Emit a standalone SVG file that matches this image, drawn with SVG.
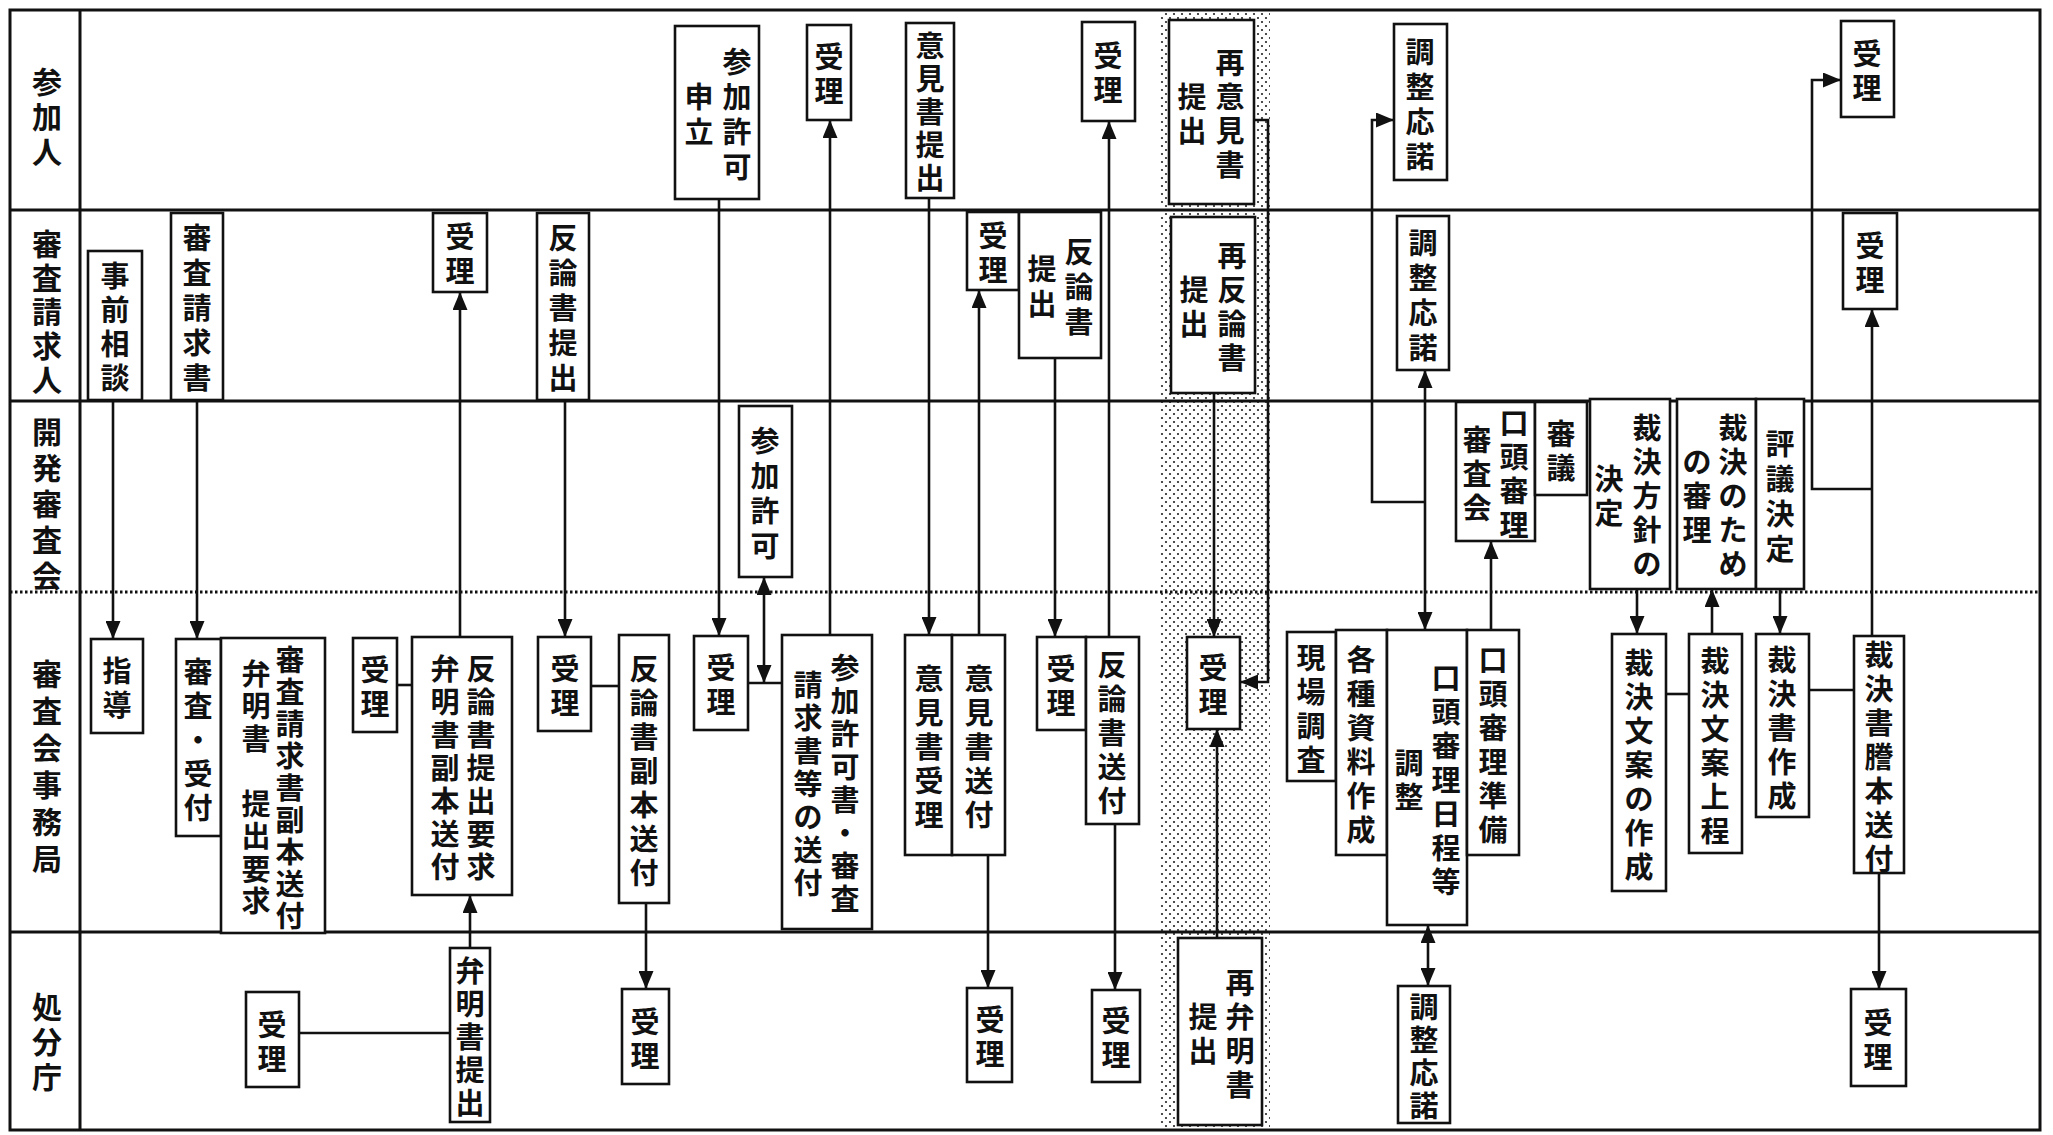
<svg xmlns="http://www.w3.org/2000/svg" width="2053" height="1135" viewBox="0 0 2053 1135">
<defs>
<style>
.box{fill:#fff;stroke:#111;stroke-width:2.6}
.t{font-family:"Noto Sans CJK JP","Noto Sans CJK SC",sans-serif;font-size:29px;font-weight:700;fill:#111;text-anchor:middle;dominant-baseline:central}
.lt{font-size:30px}
.lane{stroke:#111;stroke-width:3;fill:none}
.dot{stroke:#111;stroke-width:3;stroke-dasharray:2.5 2.5;fill:none}
.c{stroke:#111;stroke-width:2.6;fill:none}
.a{marker-end:url(#ah)}
.b{marker-start:url(#ah);marker-end:url(#ah)}
</style>
<marker id="ah" viewBox="0 0 18 15" refX="18" refY="7.5" markerWidth="18" markerHeight="15" orient="auto-start-reverse" markerUnits="userSpaceOnUse"><path d="M0,0 L18,7.5 L0,15 z" fill="#111"/></marker>
<pattern id="dots" width="8" height="8" patternUnits="userSpaceOnUse"><circle cx="2" cy="2" r="1.1" fill="#222"/><circle cx="6" cy="6" r="1.1" fill="#222"/></pattern>
</defs>
<rect width="2053" height="1135" fill="#fff"/>
<rect x="1160" y="10" width="110" height="1120" fill="url(#dots)"/>
<g id="lanes">
<rect class="lane" x="10" y="10" width="2030" height="1120"/>
<line class="lane" x1="80" y1="10" x2="80" y2="1130"/>
<line class="lane" x1="10" y1="210" x2="2040" y2="210"/>
<line class="lane" x1="10" y1="401" x2="2040" y2="401"/>
<line class="dot" x1="10" y1="592" x2="2040" y2="592"/>
<line class="lane" x1="10" y1="932" x2="2040" y2="932"/>
<text class="t lt" x="47 47 47" y="80 115 150">参加人</text>
<text class="t lt" x="47 47 47 47 47" y="242 276 310 344 378">審査請求人</text>
<text class="t lt" x="47 47 47 47 47" y="430 466 502 538 574">開発審査会</text>
<text class="t lt" x="47 47 47 47 47 47" y="672 709 746 783 820 857">審査会事務局</text>
<text class="t lt" x="47 47 47" y="1005 1040 1075">処分庁</text>
</g>
<g id="connectors">
<line class="c a" x1="113" y1="400" x2="113" y2="639"/>
<line class="c a" x1="197" y1="400" x2="197" y2="639"/>
<line class="c a" x1="460" y1="637" x2="460" y2="292"/>
<line class="c" x1="397" y1="685" x2="412" y2="685"/>
<line class="c a" x1="470" y1="948" x2="470" y2="895"/>
<line class="c" x1="299" y1="1033" x2="450" y2="1033"/>
<line class="c a" x1="565" y1="400" x2="565" y2="637"/>
<line class="c" x1="591" y1="686" x2="619" y2="686"/>
<line class="c a" x1="646" y1="903" x2="646" y2="989"/>
<line class="c a" x1="719" y1="199" x2="719" y2="636"/>
<line class="c" x1="748" y1="683" x2="782" y2="683"/>
<line class="c b" x1="764" y1="577" x2="764" y2="683"/>
<line class="c a" x1="830" y1="635" x2="830" y2="120"/>
<line class="c a" x1="929" y1="198" x2="929" y2="635"/>
<line class="c a" x1="979" y1="635" x2="979" y2="290"/>
<line class="c a" x1="988" y1="855" x2="988" y2="988"/>
<line class="c a" x1="1055" y1="358" x2="1055" y2="637"/>
<line class="c a" x1="1109" y1="637" x2="1109" y2="121"/>
<line class="c a" x1="1115" y1="824" x2="1115" y2="990"/>
<line class="c a" x1="1214" y1="393" x2="1214" y2="637"/>
<path class="c a" d="M1254,120 H1268 V682 H1240"/>
<line class="c a" x1="1217" y1="938" x2="1217" y2="729"/>
<line class="c b" x1="1425" y1="370" x2="1425" y2="630"/>
<path class="c a" d="M1425,502 H1372 V120 H1394"/>
<line class="c a" x1="1491" y1="630" x2="1491" y2="541"/>
<line class="c b" x1="1428" y1="925" x2="1428" y2="986"/>
<line class="c a" x1="1637" y1="589" x2="1637" y2="634"/>
<line class="c" x1="1666" y1="694" x2="1689" y2="694"/>
<line class="c a" x1="1712" y1="634" x2="1712" y2="589"/>
<line class="c a" x1="1780" y1="589" x2="1780" y2="634"/>
<line class="c" x1="1809" y1="690" x2="1854" y2="690"/>
<line class="c a" x1="1872" y1="636" x2="1872" y2="309"/>
<path class="c a" d="M1872,489 H1812 V80 H1841"/>
<line class="c a" x1="1879" y1="873" x2="1879" y2="989"/>
</g>
<g id="n-jizen"><rect class="box" x="88" y="251" width="54" height="149"/><text class="t" x="115 115 115 115" y="274 308 342 376">事前相談</text></g>
<g id="n-seikyusho"><rect class="box" x="171" y="213" width="52" height="187"/><text class="t" x="197 197 197 197 197" y="236 271 306 341 376">審査請求書</text></g>
<g id="n-juri-s1"><rect class="box" x="433" y="213" width="54" height="79"/><text class="t" x="460 460" y="235 269">受理</text></g>
<g id="n-hanron1"><rect class="box" x="537" y="213" width="52" height="187"/><text class="t" x="563 563 563 563 563" y="236 271 306 341 376">反論書提出</text></g>
<g id="n-sanka-moushitate"><rect class="box" x="675" y="26" width="84" height="173"/><text class="t" x="737 737 737 737" y="60 95 130 165">参加許可</text><text class="t" x="699 699" y="95 130">申立</text></g>
<g id="n-juri-p1"><rect class="box" x="807" y="25" width="44" height="95"/><text class="t" x="829 829" y="55 89">受理</text></g>
<g id="n-iken-teishutsu"><rect class="box" x="906" y="23" width="48" height="175"/><text class="t" x="930 930 930 930 930" y="44 77 110 143 176">意見書提出</text></g>
<g id="n-juri-s2"><rect class="box" x="967" y="212" width="52" height="78"/><text class="t" x="993 993" y="234 268">受理</text></g>
<g id="n-hanron2"><rect class="box" x="1019" y="212" width="82" height="146"/><text class="t" x="1079 1079 1079" y="250 285 320">反論書</text><text class="t" x="1042 1042" y="267 302">提出</text></g>
<g id="n-juri-p2"><rect class="box" x="1082" y="22" width="53" height="99"/><text class="t" x="1108 1108" y="54 88">受理</text></g>
<g id="n-sai-iken"><rect class="box" x="1169" y="20" width="85" height="184"/><text class="t" x="1230 1230 1230 1230" y="61 95 129 163">再意見書</text><text class="t" x="1192 1192" y="95 129">提出</text></g>
<g id="n-sai-hanron"><rect class="box" x="1171" y="217" width="84" height="176"/><text class="t" x="1232 1232 1232 1232" y="254 288 322 356">再反論書</text><text class="t" x="1194 1194" y="288 322">提出</text></g>
<g id="n-chosei-p"><rect class="box" x="1394" y="24" width="53" height="156"/><text class="t" x="1420 1420 1420 1420" y="50 85 120 155">調整応諾</text></g>
<g id="n-chosei-s"><rect class="box" x="1397" y="216" width="52" height="154"/><text class="t" x="1423 1423 1423 1423" y="241 276 311 346">調整応諾</text></g>
<g id="n-juri-p3"><rect class="box" x="1841" y="21" width="53" height="96"/><text class="t" x="1867 1867" y="52 86">受理</text></g>
<g id="n-juri-s3"><rect class="box" x="1843" y="213" width="54" height="96"/><text class="t" x="1870 1870" y="244 278">受理</text></g>
<g id="n-sanka-kyoka"><rect class="box" x="739" y="406" width="53" height="171"/><text class="t" x="765 765 765 765" y="439 474 509 544">参加許可</text></g>
<g id="n-koutou-shinsakai"><rect class="box" x="1456" y="402" width="79" height="139"/><text class="t" x="1514 1514 1514 1514" y="421 455 489 523">口頭審理</text><text class="t" x="1477 1477 1477" y="438 472 506">審査会</text></g>
<g id="n-shingi"><rect class="box" x="1535" y="402" width="52" height="93"/><text class="t" x="1561 1561" y="432 466">審議</text></g>
<g id="n-houshin"><rect class="box" x="1590" y="399" width="80" height="190"/><text class="t" x="1647 1647 1647 1647 1647" y="426 460 494 528 562">裁決方針の</text><text class="t" x="1609 1609" y="477 511">決定</text></g>
<g id="n-shinri"><rect class="box" x="1677" y="399" width="79" height="190"/><text class="t" x="1733 1733 1733 1733 1733" y="426 460 494 528 562">裁決のため</text><text class="t" x="1697 1697 1697" y="460 494 528">の審理</text></g>
<g id="n-hyogi"><rect class="box" x="1756" y="399" width="48" height="190"/><text class="t" x="1780 1780 1780 1780" y="442 477 512 547">評議決定</text></g>
<g id="n-shidou"><rect class="box" x="91" y="639" width="52" height="94"/><text class="t" x="117 117" y="669 703">指導</text></g>
<g id="n-shinsa-uketsuke"><rect class="box" x="176" y="639" width="45" height="197"/><text class="t" x="198 198 198 198 198" y="670 704 738 772 806">審査・受付</text></g>
<g id="n-fukuhon-soufu"><rect class="box" x="221" y="638" width="104" height="295"/><text class="t" x="290 290 290 290 290 290 290 290 290" y="658 690 722 754 786 818 850 882 914">審査請求書副本送付</text><text class="t" x="256 256 256 256 256 256 256" y="672 704 737 802 834 867 899">弁明書提出要求</text></g>
<g id="n-juri-j1"><rect class="box" x="353" y="638" width="44" height="94"/><text class="t" x="375 375" y="668 702">受理</text></g>
<g id="n-hanron-youkyu"><rect class="box" x="412" y="637" width="100" height="258"/><text class="t" x="481 481 481 481 481 481 481" y="667 700 733 766 799 832 865">反論書提出要求</text><text class="t" x="445 445 445 445 445 445 445" y="667 700 733 766 799 832 865">弁明書副本送付</text></g>
<g id="n-juri-j2"><rect class="box" x="538" y="637" width="53" height="94"/><text class="t" x="565 565" y="667 701">受理</text></g>
<g id="n-hanron-fukuhon"><rect class="box" x="619" y="635" width="50" height="268"/><text class="t" x="644 644 644 644 644 644 644" y="667 701 735 769 803 837 871">反論書副本送付</text></g>
<g id="n-juri-j3"><rect class="box" x="694" y="636" width="54" height="94"/><text class="t" x="721 721" y="666 700">受理</text></g>
<g id="n-kyokasho"><rect class="box" x="782" y="635" width="90" height="294"/><text class="t" x="845 845 845 845 845 845 845 845" y="666 699 732 765 798 831 864 897">参加許可書・審査</text><text class="t" x="808 808 808 808 808 808 808" y="683 716 749 782 815 848 881">請求書等の送付</text></g>
<g id="n-iken-juri"><rect class="box" x="905" y="635" width="47" height="220"/><text class="t" x="929 929 929 929 929" y="677 711 745 779 813">意見書受理</text></g>
<g id="n-iken-soufu"><rect class="box" x="952" y="635" width="53" height="220"/><text class="t" x="979 979 979 979 979" y="677 711 745 779 813">意見書送付</text></g>
<g id="n-juri-j4"><rect class="box" x="1037" y="637" width="49" height="93"/><text class="t" x="1061 1061" y="667 701">受理</text></g>
<g id="n-hanron-soufu"><rect class="box" x="1086" y="637" width="53" height="187"/><text class="t" x="1112 1112 1112 1112 1112" y="663 697 731 765 799">反論書送付</text></g>
<g id="n-juri-j5"><rect class="box" x="1187" y="637" width="53" height="92"/><text class="t" x="1213 1213" y="666 700">受理</text></g>
<g id="n-genba"><rect class="box" x="1287" y="632" width="49" height="149"/><text class="t" x="1311 1311 1311 1311" y="656 690 724 758">現場調査</text></g>
<g id="n-shiryou"><rect class="box" x="1336" y="630" width="51" height="225"/><text class="t" x="1361 1361 1361 1361 1361 1361" y="658 692 726 760 794 828">各種資料作成</text></g>
<g id="n-nittei"><rect class="box" x="1387" y="630" width="80" height="295"/><text class="t" x="1446 1446 1446 1446 1446 1446 1446" y="676 710 744 778 812 846 880">口頭審理日程等</text><text class="t" x="1409 1409" y="761 795">調整</text></g>
<g id="n-junbi"><rect class="box" x="1467" y="630" width="52" height="225"/><text class="t" x="1493 1493 1493 1493 1493 1493" y="658 692 726 760 794 828">口頭審理準備</text></g>
<g id="n-bunan-sakusei"><rect class="box" x="1612" y="634" width="54" height="257"/><text class="t" x="1639 1639 1639 1639 1639 1639 1639" y="661 695 729 763 797 831 865">裁決文案の作成</text></g>
<g id="n-bunan-joutei"><rect class="box" x="1689" y="634" width="53" height="219"/><text class="t" x="1715 1715 1715 1715 1715 1715" y="659 693 727 761 795 829">裁決文案上程</text></g>
<g id="n-saiketsusho"><rect class="box" x="1756" y="634" width="53" height="183"/><text class="t" x="1782 1782 1782 1782 1782" y="658 692 726 760 794">裁決書作成</text></g>
<g id="n-touhon"><rect class="box" x="1854" y="636" width="50" height="237"/><text class="t" x="1879 1879 1879 1879 1879 1879 1879" y="653 687 721 755 789 823 857">裁決書謄本送付</text></g>
<g id="n-juri-k1"><rect class="box" x="246" y="992" width="53" height="95"/><text class="t" x="272 272" y="1023 1057">受理</text></g>
<g id="n-benmei"><rect class="box" x="450" y="948" width="40" height="174"/><text class="t" x="470 470 470 470 470" y="969 1002 1035 1068 1101">弁明書提出</text></g>
<g id="n-juri-k2"><rect class="box" x="622" y="989" width="47" height="95"/><text class="t" x="645 645" y="1020 1054">受理</text></g>
<g id="n-juri-k3"><rect class="box" x="967" y="988" width="45" height="94"/><text class="t" x="990 990" y="1018 1052">受理</text></g>
<g id="n-juri-k4"><rect class="box" x="1092" y="990" width="48" height="92"/><text class="t" x="1116 1116" y="1019 1053">受理</text></g>
<g id="n-sai-benmei"><rect class="box" x="1178" y="938" width="84" height="187"/><text class="t" x="1240 1240 1240 1240" y="981 1015 1049 1083">再弁明書</text><text class="t" x="1203 1203" y="1015 1049">提出</text></g>
<g id="n-chosei-k"><rect class="box" x="1398" y="986" width="52" height="137"/><text class="t" x="1424 1424 1424 1424" y="1005 1038 1071 1104">調整応諾</text></g>
<g id="n-juri-k5"><rect class="box" x="1851" y="989" width="55" height="97"/><text class="t" x="1878 1878" y="1021 1055">受理</text></g>
</svg>
